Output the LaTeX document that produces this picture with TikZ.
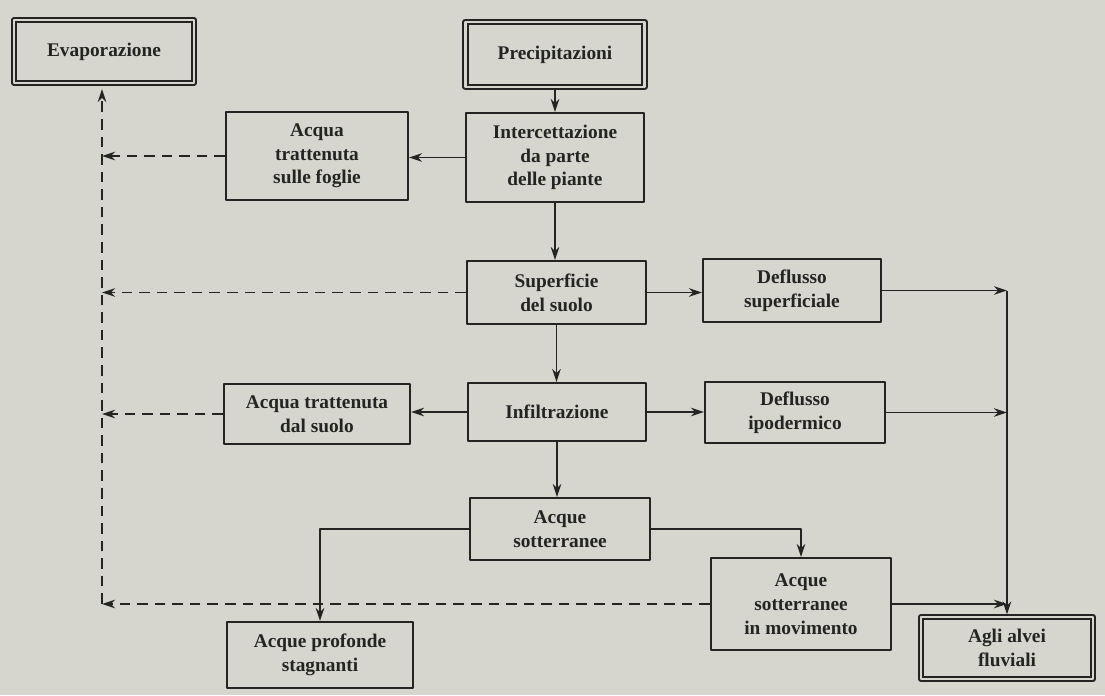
\documentclass[tikz,border=0pt]{standalone}
\usepackage{fontspec}
\setmainfont{Liberation Serif}
\usepackage{tikz}
\usetikzlibrary{arrows.meta,calc}
\usetikzlibrary{positioning}
\definecolor{paper}{RGB}{214,214,207}
\definecolor{ink}{RGB}{36,36,34}
\tikzset{blk/.style={draw=ink,line width=1.1pt,text=ink,align=center,inner sep=2pt},
  dblk/.style={blk,double=paper,double distance=1.6pt,line width=0.9pt},
  flow/.style={draw=ink,line width=1.1pt},
  evp/.style={draw=ink,line width=1.1pt,dash pattern=on 6pt off 4pt}}

\begin{document}
\begin{tikzpicture}[>={Stealth[length=2.6mm,width=1.7mm]},line join=round,font=\fontsize{11}{13.5}\selectfont\bfseries]
\fill[paper] (0,0) rectangle (22.1,13.9);
\useasboundingbox (0,0) rectangle (22.1,13.9);
% --- ends of the cycle
\node[dblk,minimum width=3.6cm,minimum height=1.26cm] (evap) at (2.08,12.87) {Evaporazione};
\node[dblk,minimum width=3.58cm,minimum height=1.3cm,line width=1.1pt] (prec) at (11.1,12.81) {Precipitazioni};
\node[dblk,minimum width=3.44cm,minimum height=1.24cm] (alvei) at (20.14,0.94) {Agli alvei\\fluviali};
% --- central column
\node[blk,minimum width=3.56cm,minimum height=1.78cm] (inter) at (11.1,10.75) {Intercettazione\\da parte\\delle piante};
\node[blk,minimum width=3.58cm,minimum height=1.26cm] (sup) at (11.13,8.05) {Superficie\\del suolo};
\node[blk,minimum width=3.56cm,minimum height=1.16cm] (infil) at (11.14,5.66) {Infiltrazione};
\node[blk,minimum width=3.6cm,minimum height=1.24cm] (sott) at (11.2,3.32) {Acque\\sotterranee};
% --- left and right branches
\node[blk,minimum width=3.64cm,minimum height=1.76cm] (foglie) at (6.34,10.78) {Acqua\\trattenuta\\sulle foglie};
\node[blk,minimum width=3.72cm,minimum height=1.2cm] (dsuolo) at (6.34,5.62) {Acqua trattenuta\\dal suolo};
\node[blk,minimum width=3.72cm,minimum height=1.32cm] (prof) at (6.4,0.8) {Acque profonde\\stagnanti};
\node[blk,minimum width=3.56cm,minimum height=1.26cm] (dsup) at (15.84,8.09) {Deflusso\\superficiale};
\node[blk,minimum width=3.6cm,minimum height=1.22cm] (ipo) at (15.9,5.65) {Deflusso\\ipodermico};
\node[blk,minimum width=3.6cm,minimum height=1.84cm] (mov) at (16.02,1.82) {Acque\\sotterranee\\in movimento};
% --- solid connectors
\draw[flow,->] (prec.south) -- (prec.south |- inter.north);
\draw[flow,->] (inter.west) -- (inter.west -| foglie.east);
\draw[flow,->] (inter.south) -- (inter.south |- sup.north);
\draw[flow,->] (sup.east) -- (sup.east -| dsup.west);
\draw[flow,->] (sup.south) -- (sup.south |- infil.north);
\draw[flow,->] (infil.west) -- (infil.west -| dsuolo.east);
\draw[flow,->] (infil.east) -- (infil.east -| ipo.west);
\draw[flow,->] (infil.south) -- (infil.south |- sott.north);
\draw[flow,->] (sott.west) -| (prof.north);
\draw[flow,->] (sott.east) -| (mov.north);
% --- to the river beds
\coordinate (riv) at (alvei.north |- dsup.east);
\draw[flow,->] (dsup.east) -- (riv);
\draw[flow,->] (ipo.east) -- (ipo.east -| riv);
\draw[flow,->] (mov.east) -- (mov.east -| riv);
\draw[flow,->,shorten >=1pt] (riv) -- (alvei.north);
% --- evaporation return (dashed)
\coordinate (ev) at (mov.west -| 2.04,0);
\draw[evp,->,shorten >=3pt] (ev) -- (ev |- evap.south);
\draw[evp,->] (foglie.west) -- (ev |- foglie.west);
\draw[evp,->] (sup.west) -- (ev |- sup.west);
\draw[evp,->] (dsuolo.west) -- (ev |- dsuolo.west);
\draw[evp,->] (mov.west) -- (ev);
\end{tikzpicture}
\end{document}
